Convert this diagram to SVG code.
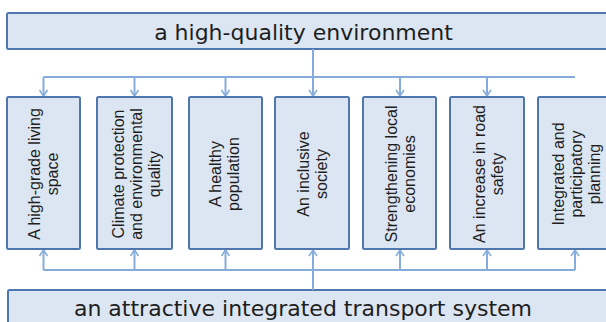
<svg xmlns="http://www.w3.org/2000/svg" width="606" height="322" viewBox="0 0 606 322">
<style>
.box{fill:#dce6f2;stroke:#4f77ad;stroke-width:2}
.big{font-family:"DejaVu Sans",Verdana,sans-serif;font-size:22px;fill:#1e1e1e;text-anchor:middle}
.lbl{font-family:"Liberation Sans",Arial,sans-serif;font-size:16px;fill:#1e1e1e;text-anchor:middle}
.con{fill:none;stroke:#86acdc;stroke-width:2}
</style>
<defs>
<marker id="ah" viewBox="0 0 10 10" refX="9" refY="5" markerWidth="10" markerHeight="10" markerUnits="userSpaceOnUse" orient="auto">
<path d="M3,1 L9,5 L3,9" fill="none" stroke="#86acdc" stroke-width="1.6"/>
</marker>
</defs>
<g id="top-node"><rect class="box" x="7" y="13" width="620" height="36" rx="1.5"/><text class="big" x="303.5" y="40">a high-quality environment</text></g>
<g id="bottom-node"><rect class="box" x="8" y="290" width="620" height="40" rx="1.5"/><text class="big" x="303" y="316">an attractive integrated transport system</text></g>
<g id="connectors">
<path class="con" d="M43.5,77 H575"/>
<path class="con" d="M313,49 V96" marker-end="url(#ah)"/>
<path class="con" d="M43.5,77 V96" marker-end="url(#ah)"/>
<path class="con" d="M134.5,77 V96" marker-end="url(#ah)"/>
<path class="con" d="M225.5,77 V96" marker-end="url(#ah)"/>
<path class="con" d="M400,77 V96" marker-end="url(#ah)"/>
<path class="con" d="M487,77 V96" marker-end="url(#ah)"/>
<path class="con" d="M43.5,270 H575"/>
<path class="con" d="M313,290 V250" marker-end="url(#ah)"/>
<path class="con" d="M43.5,270 V250" marker-end="url(#ah)"/>
<path class="con" d="M134.5,270 V250" marker-end="url(#ah)"/>
<path class="con" d="M225.5,270 V250" marker-end="url(#ah)"/>
<path class="con" d="M400,270 V250" marker-end="url(#ah)"/>
<path class="con" d="M487,270 V250" marker-end="url(#ah)"/>
<path class="con" d="M575,270 V250" marker-end="url(#ah)"/>
</g>
<g id="n1"><rect class="box" x="7" y="97" width="73" height="152" rx="1.5"/><text class="lbl" transform="translate(43.5,174) rotate(-90)"><tspan x="0" y="-3.3">A high-grade living</tspan><tspan x="0" y="14.7">space</tspan></text></g>
<g id="n2"><rect class="box" x="97" y="97" width="75" height="152" rx="1.5"/><text class="lbl" transform="translate(136,174) rotate(-90)"><tspan x="0" y="-12.3">Climate protection</tspan><tspan x="0" y="5.7">and environmental</tspan><tspan x="0" y="23.7">quality</tspan></text></g>
<g id="n3"><rect class="box" x="189" y="97" width="73" height="152" rx="1.5"/><text class="lbl" transform="translate(224.5,174) rotate(-90)"><tspan x="0" y="-3.3">A healthy</tspan><tspan x="0" y="14.7">population</tspan></text></g>
<g id="n4"><rect class="box" x="275" y="97" width="74" height="152" rx="1.5"/><text class="lbl" transform="translate(312.5,174) rotate(-90)"><tspan x="0" y="-3.3">An inclusive</tspan><tspan x="0" y="14.7">society</tspan></text></g>
<g id="n5"><rect class="box" x="363" y="97" width="73" height="152" rx="1.5"/><text class="lbl" transform="translate(400,174) rotate(-90)"><tspan x="0" y="-3.3">Strengthening local</tspan><tspan x="0" y="14.7">economies</tspan></text></g>
<g id="n6"><rect class="box" x="450" y="97" width="74" height="152" rx="1.5"/><text class="lbl" transform="translate(488,174) rotate(-90)"><tspan x="0" y="-3.3">An increase in road</tspan><tspan x="0" y="14.7">safety</tspan></text></g>
<g id="n7"><rect class="box" x="538" y="97" width="76" height="152" rx="1.5"/><text class="lbl" transform="translate(576,174) rotate(-90)"><tspan x="0" y="-12.3">Integrated and</tspan><tspan x="0" y="5.7">participatory</tspan><tspan x="0" y="23.7">planning</tspan></text></g>
</svg>
